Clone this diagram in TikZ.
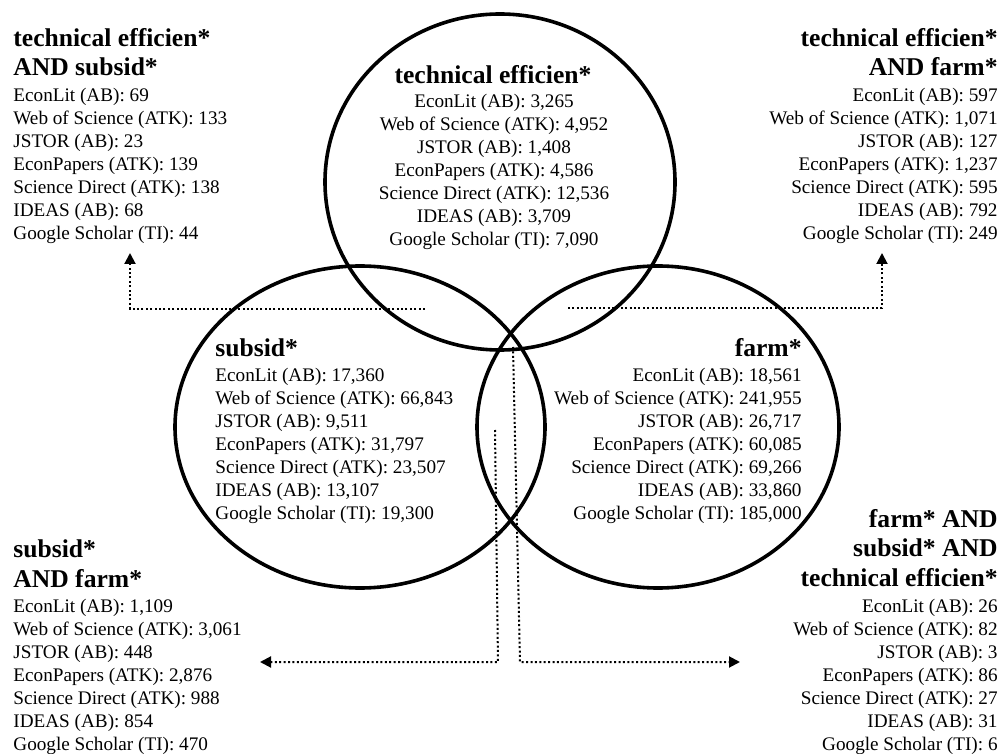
\documentclass[tikz,border=0pt]{standalone}
\usepackage{fontspec}
\setmainfont{Liberation Serif}
\usetikzlibrary{arrows.meta}
\begin{document}
\begin{tikzpicture}[x = 0.5pt, y = -0.5pt,
	head/.style = {font = \bfseries\fontsize{12.8}{14.75}\selectfont, inner sep = 0},
	list/.style = {font = \fontsize{9.6}{11.5}\selectfont, inner sep = 0},
	link/.style = {line width = 1pt, dash pattern = on 1pt off 1.2pt, -{Triangle[length = 5.5pt, width = 5.5pt]}}]
	\useasboundingbox (0, 0) rectangle (1002, 754);
	% the three sets
	\draw[line width = 1.8pt] (500, 182) ellipse [x radius = 175, y radius = 168];
	\draw[line width = 1.8pt] (360, 427) ellipse [x radius = 185, y radius = 161];
	\draw[line width = 1.8pt] (658, 427) ellipse [x radius = 181, y radius = 161];
	% single terms (anchors on the last baseline)
	\node[head, anchor = base] (tehead) at (493, 84) {technical efficien*};
	\node[list, anchor = base, align = center] (telist) at (494, 246) {EconLit (AB): 3,265\\Web of Science (ATK): 4,952\\JSTOR (AB): 1,408\\EconPapers (ATK): 4,586\\Science Direct (ATK): 12,536\\IDEAS (AB): 3,709\\Google Scholar (TI): 7,090};
	\node[head, anchor = base west] (suhead) at (215, 357) {subsid*};
	\node[list, anchor = base west, align = left] (sulist) at (215, 519) {EconLit (AB): 17,360\\Web of Science (ATK): 66,843\\JSTOR (AB): 9,511\\EconPapers (ATK): 31,797\\Science Direct (ATK): 23,507\\IDEAS (AB): 13,107\\Google Scholar (TI): 19,300};
	\node[head, anchor = base east] (fahead) at (802, 357) {farm*};
	\node[list, anchor = base east, align = right] (falist) at (802, 519) {EconLit (AB): 18,561\\Web of Science (ATK): 241,955\\JSTOR (AB): 26,717\\EconPapers (ATK): 60,085\\Science Direct (ATK): 69,266\\IDEAS (AB): 33,860\\Google Scholar (TI): 185,000};
	% combinations
	\node[head, anchor = base west, align = left] (tshead) at (13, 76) {technical efficien*\\AND subsid*};
	\node[list, anchor = base west, align = left] (tslist) at (13, 240) {EconLit (AB): 69\\Web of Science (ATK): 133\\JSTOR (AB): 23\\EconPapers (ATK): 139\\Science Direct (ATK): 138\\IDEAS (AB): 68\\Google Scholar (TI): 44};
	\node[head, anchor = base east, align = right] (tfhead) at (998, 76) {technical efficien*\\AND farm*};
	\node[list, anchor = base east, align = right] (tflist) at (998, 240) {EconLit (AB): 597\\Web of Science (ATK): 1,071\\JSTOR (AB): 127\\EconPapers (ATK): 1,237\\Science Direct (ATK): 595\\IDEAS (AB): 792\\Google Scholar (TI): 249};
	\node[head, anchor = base west, align = left] (sfhead) at (13, 587) {subsid*\\AND farm*};
	\node[list, anchor = base west, align = left] (sflist) at (13, 750) {EconLit (AB): 1,109\\Web of Science (ATK): 3,061\\JSTOR (AB): 448\\EconPapers (ATK): 2,876\\Science Direct (ATK): 988\\IDEAS (AB): 854\\Google Scholar (TI): 470};
	\node[head, anchor = base east, align = right] (allhead) at (998, 586) {farm* AND\\subsid* AND\\technical efficien*};
	\node[list, anchor = base east, align = right] (alllist) at (998, 750) {EconLit (AB): 26\\Web of Science (ATK): 82\\JSTOR (AB): 3\\EconPapers (ATK): 86\\Science Direct (ATK): 27\\IDEAS (AB): 31\\Google Scholar (TI): 6};
	% pointers
	\coordinate (tsstart) at (425, 309);  \coordinate (tsbend) at (130, 309);  \coordinate (tsend) at (130, 253);
	\coordinate (tfstart) at (568, 308);  \coordinate (tfbend) at (882, 308);  \coordinate (tfend) at (882, 253);
	\coordinate (sfstart) at (495, 430);  \coordinate (sfbend) at (498, 662);  \coordinate (sfend) at (260, 662);
	\coordinate (allstart) at (513, 347); \coordinate (allbend) at (520, 662); \coordinate (allend) at (740, 662);
	\foreach \n in {ts, tf, sf, all}{
		\draw[link] (\n start) -- (\n bend) -- (\n end);}
\end{tikzpicture}
\end{document}
